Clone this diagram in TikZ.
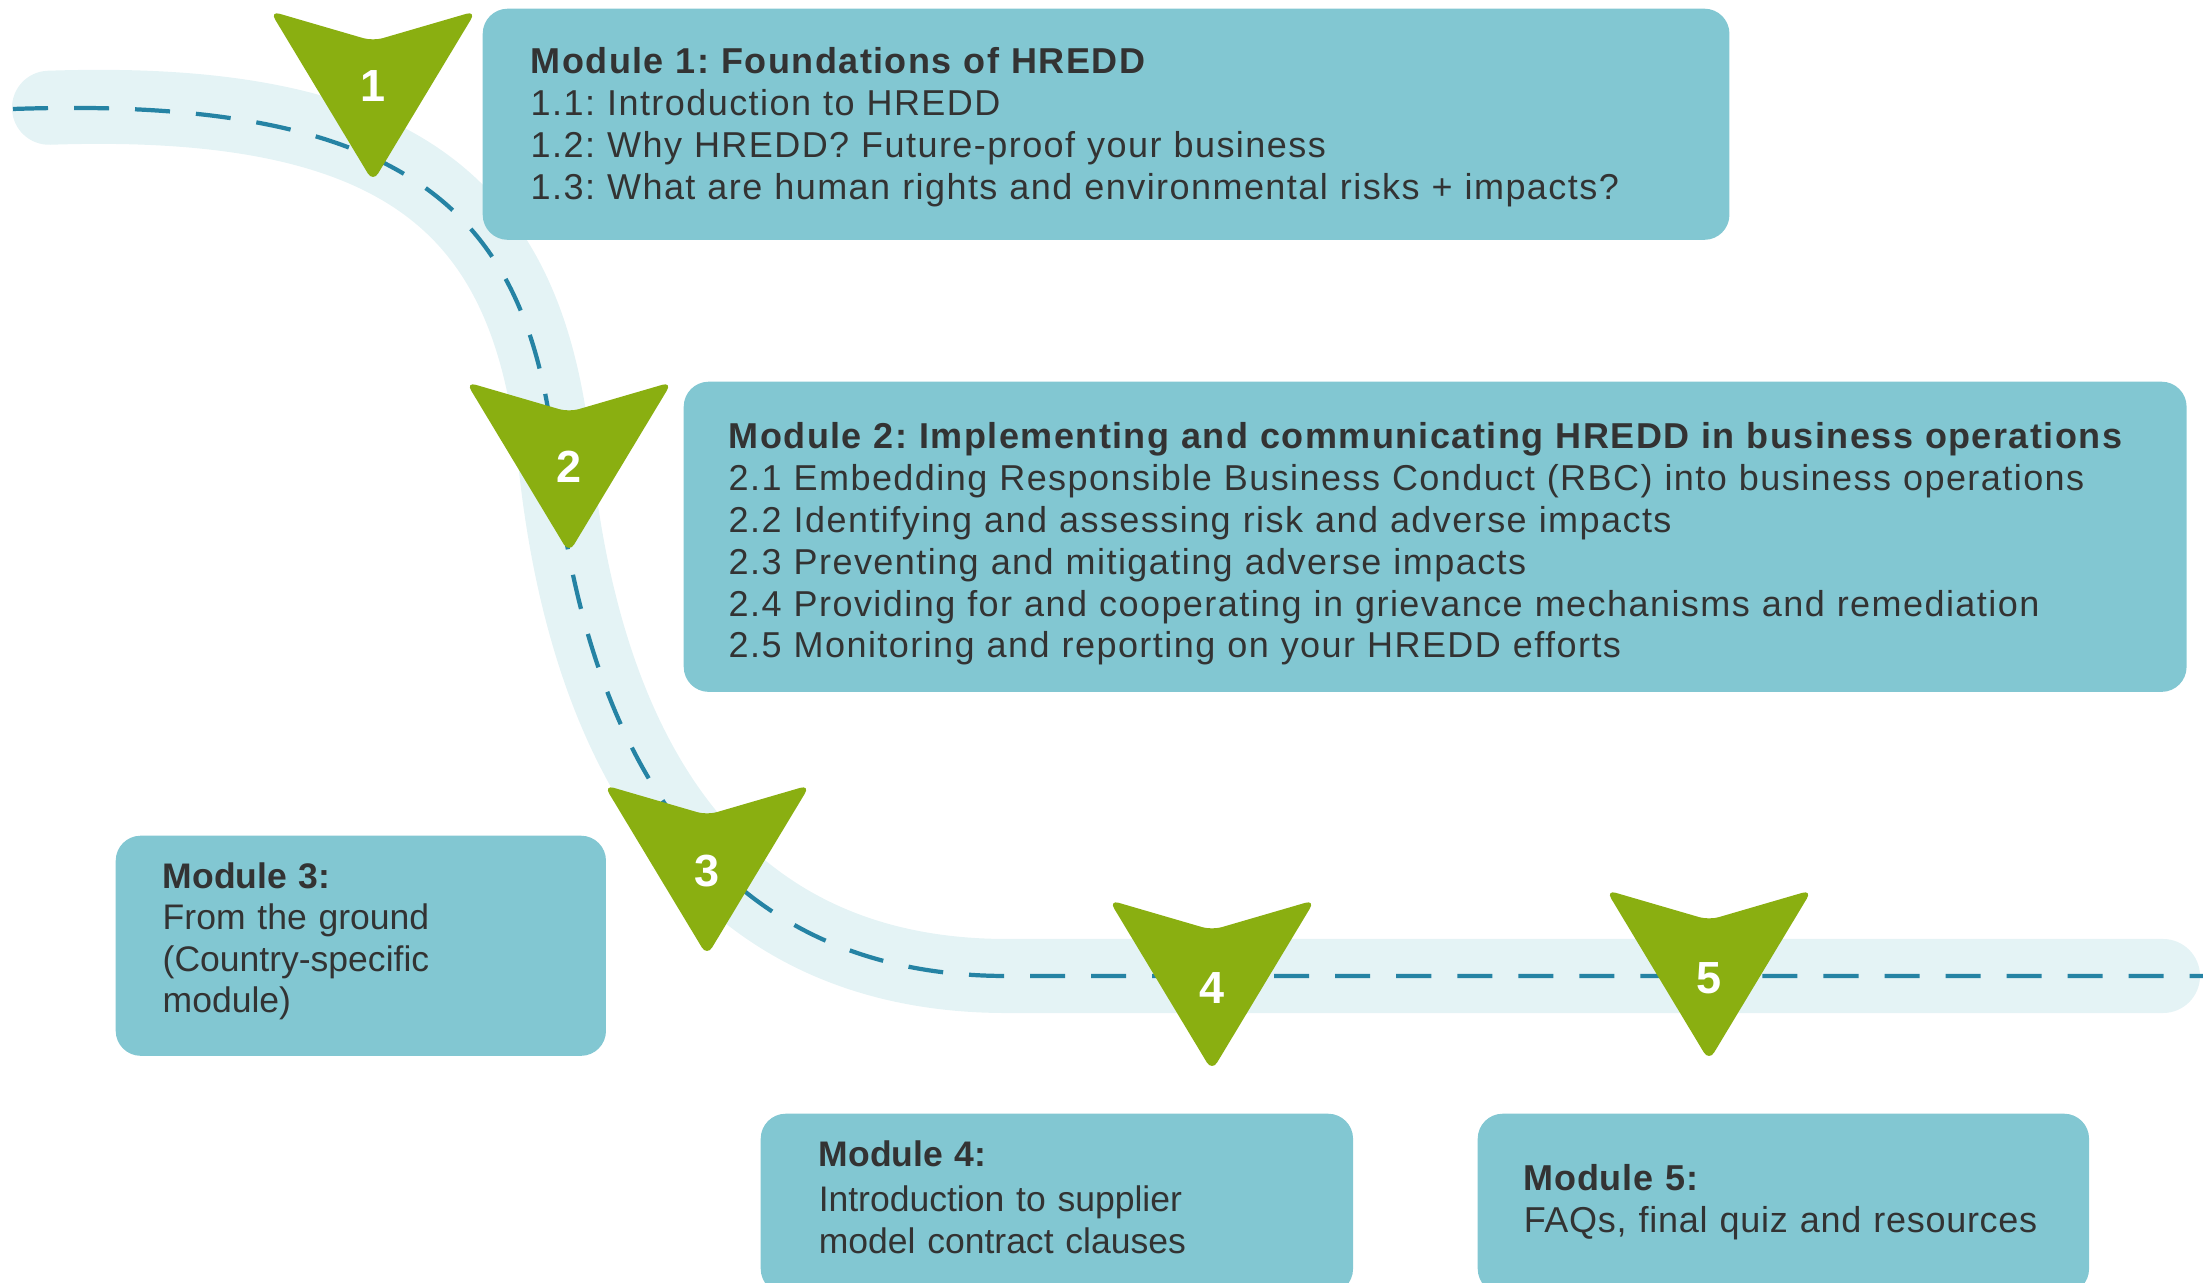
\documentclass[tikz,border=0pt]{standalone}
\usepackage{fontspec}
\setmainfont{Liberation Sans}[LetterSpace=4]
\newfontfamily\plainsans{Liberation Sans}
\newfontfamily\loosesans{Liberation Sans}[LetterSpace=2]
\usetikzlibrary{positioning}

\definecolor{boxblue}{HTML}{82C7D2}
\definecolor{trailblue}{HTML}{E4F3F5}
\definecolor{traceblue}{HTML}{2583A4}
\definecolor{leafgreen}{HTML}{8AAF11}
\definecolor{inkgray}{HTML}{333333}

\newcommand{\modfont}{\frenchspacing\fontsize{10.24}{11.9}\selectfont}
\newcommand{\smallmodfont}{\frenchspacing\fontsize{10.1}{11.7}\selectfont}
\newcommand{\numfont}{\fontsize{12.8}{14}\selectfont\bfseries}
% centre line of the trail
\newcommand{\trailpath}{(13,109) .. controls (420,95) and (530,220) .. (555,460)
  .. controls (580,700) and (680,975) .. (1005,976) -- (2203,976)}

\begin{document}
\begin{tikzpicture}[x=0.01cm, y=-0.01cm,
  trail/.style={draw=trailblue, line width=0.74cm, line cap=round},
  trace/.style={draw=traceblue, line width=1.2pt, dash pattern=on 0.35cm off 0.26cm},
  modbox/.style={fill=boxblue, rounded corners=0.25cm, anchor=north west,
    align=left, inner ysep=0pt, text=inkgray, font=\modfont, text height=0.3cm},
  marker/.style={fill=leafgreen, rounded corners=0.1cm},
  num/.style={text=white, font=\numfont, inner sep=0pt}]

% PAGE
\useasboundingbox (0,0) rectangle (2203,1283);
\clip (0,0) rectangle (2203,1283);

% TRAIL
\draw[trail, shorten <=0.36cm, shorten >=0.4cm] \trailpath;
\draw[trace] \trailpath;

% MODULES
\node[modbox, minimum width=12.46cm, minimum height=2.31cm,
  inner xsep=0.48cm, text width=11.5cm, text depth=1.31cm] (M1) at (482,8)
  {\textbf{Module 1: Foundations of HREDD}\\
   1.1: Introduction to HREDD\\
   1.2: Why HREDD? Future-proof your business\\
   1.3: What are human rights and environmental risks + impacts?};
\node[modbox, minimum width=15.02cm, minimum height=3.10cm,
  inner xsep=0.45cm, text width=14.12cm, text depth=2.06cm] (M2) at (683,381)
  {\textbf{Module 2: Implementing and communicating HREDD in business operations}\\
   2.1 Embedding Responsible Business Conduct (RBC) into business operations\\
   2.2 Identifying and assessing risk and adverse impacts\\
   2.3 Preventing and mitigating adverse impacts\\
   2.4 Providing for and cooperating in grievance mechanisms and remediation\\
   2.5 Monitoring and reporting on your HREDD efforts};
\node[modbox, font=\plainsans\smallmodfont, minimum width=4.90cm, minimum height=2.20cm,
  inner xsep=0.47cm, text width=3.96cm, text depth=1.44cm] (M3) at (115,835)
  {\textbf{Module 3:}\\
   From the ground\\
   (Country-specific\\
   module)};
\node[modbox, font=\plainsans\smallmodfont, minimum width=5.92cm, minimum height=1.80cm,
  inner xsep=0.58cm, text width=4.76cm, text depth=1.04cm] (M4) at (760,1113)
  {\textbf{Module 4:}\\[0.04cm]
   Introduction to supplier\\
   model contract clauses};
\node[modbox, font=\loosesans\modfont, minimum width=6.11cm, minimum height=1.80cm,
  inner xsep=0.46cm, text width=5.19cm, text depth=0.56cm] (M5) at (1477,1113)
  {\textbf{Module 5:}\\
   \mbox{FAQs, final quiz and resources}};

% MARKERS
\foreach \n/\x/\y/\l in {1/373/11/75, 2/569/382/85, 3/707/785/86,
  4/1212/900/88, 5/1709/890/88} {
  \fill[marker] (\x-103,\y) -- (\x,\y+30) -- (\x+103,\y) -- (\x,\y+171) -- cycle;
  \node[num] (N\n) at (\x,\y+\l) {\n};
}

\end{tikzpicture}
\end{document}
